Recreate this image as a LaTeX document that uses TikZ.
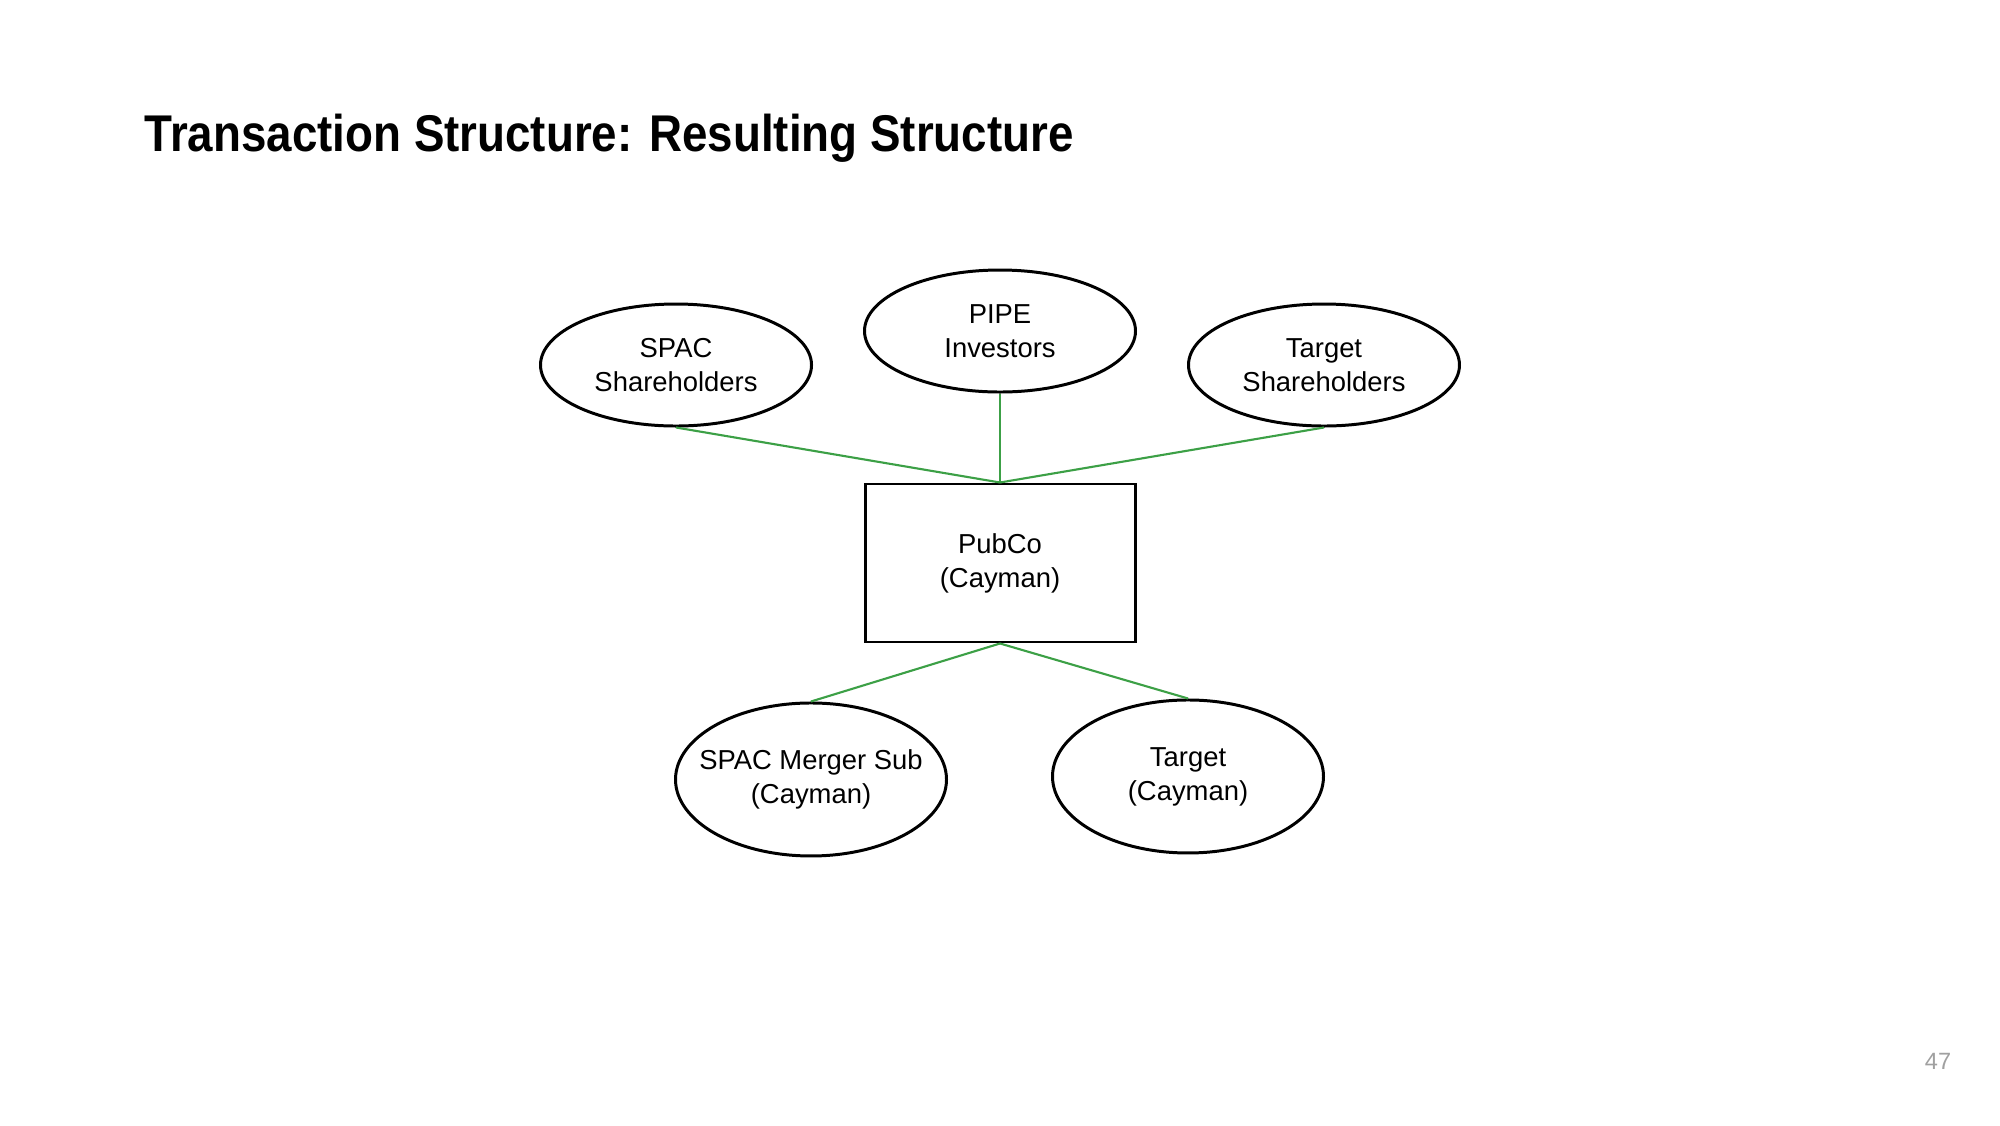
\documentclass[tikz,border=0pt]{standalone}
\usepackage{fontspec}
\setmainfont{Liberation Sans}
\usepackage{graphicx}
\usetikzlibrary{positioning,shapes.geometric}
\definecolor{linkgreen}{RGB}{60,160,70}
\definecolor{pagegray}{RGB}{160,160,160}

\begin{document}
\begin{tikzpicture}[
    oval/.style={draw, ellipse, line width=0.85pt, inner xsep=-2mm, inner ysep=0pt, minimum width=2.71cm, minimum height=1.22cm, align=center, font=\fontsize{7.8pt}{9.7pt}\selectfont},
    tall/.style={oval, minimum height=1.53cm},
    box/.style={draw, line width=0.85pt, minimum width=2.70cm, minimum height=1.58cm, align=center, font=\fontsize{7.8pt}{9.7pt}\selectfont},
    link/.style={draw=linkgreen, line width=0.6pt}
  ]
  \fill[white] (0,0) rectangle (20,11.25);
  \useasboundingbox (0,0) rectangle (20,11.25);
  \node[anchor=base west, inner sep=0pt, font=\fontsize{14.7pt}{17pt}\selectfont\bfseries] (title) at (1.44,9.73) {\scalebox{0.885}[1]{Transaction Structure: Resulting Structure}};

  \node[box] (pubco) at (10,5.62) {PubCo\\(Cayman)};
  \node[oval, above=0.89cm of pubco] (pipe) {PIPE\\Investors};
  \node[oval, left=0.5cm of pipe, yshift=-0.34cm] (spacsh) {SPAC\\Shareholders};
  \node[oval, right=0.5cm of pipe, yshift=-0.34cm] (tgtsh) {Target\\Shareholders};
  \node[tall, below=0.58cm of pubco, xshift=-1.89cm] (mergersub) {SPAC Merger Sub\\(Cayman)};
  \node[tall, below=0.55cm of pubco, xshift=1.88cm] (target) {Target\\(Cayman)};

  \draw[link] (spacsh.south) -- (pubco.north);
  \draw[link] (pipe.south) -- (pubco.north);
  \draw[link] (tgtsh.south) -- (pubco.north);
  \draw[link] (pubco.south) -- (mergersub.north);
  \draw[link] (pubco.south) -- (target.north);

  \node[text=pagegray, font=\fontsize{6.7pt}{8pt}\selectfont] (pagenum) at (19.38,0.635) {47};
\end{tikzpicture}
\end{document}
